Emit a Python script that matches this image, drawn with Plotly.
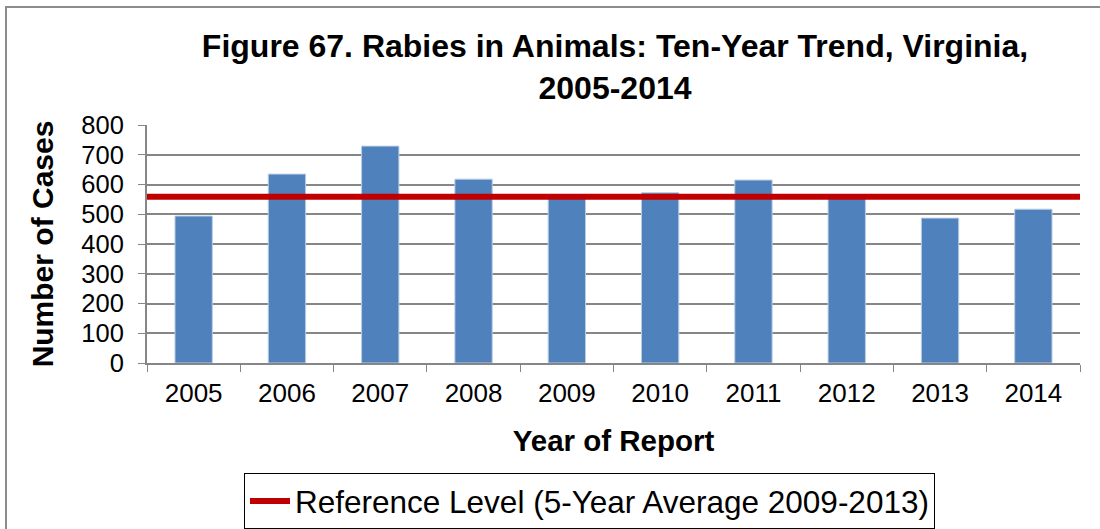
import plotly.graph_objects as go

years = ["2005", "2006", "2007", "2008", "2009", "2010", "2011", "2012", "2013", "2014"]
cases = [494, 635, 729, 618, 557, 572, 615, 563, 487, 517]
reference_level = 559
ref_name = "Reference Level (5-Year Average 2009-2013)"
title_text = "<b>Figure 67. Rabies in Animals: Ten-Year Trend, Virginia,<br>2005-2014</b>"

W, H = 1100, 529
L, R, T, B = 147, 20, 125, 166
pw = W - L - R
ph = H - T - B

FONT = "Liberation Sans, Arial, sans-serif"

fig = go.Figure()
fig.add_trace(go.Bar(
    x=years, y=cases, name="Cases", showlegend=False,
    marker=dict(color="#4F81BD", line=dict(color="#B9CDE5", width=1)),
))
fig.add_trace(go.Scatter(
    x=[0, 1], y=[reference_level, reference_level], xaxis="x2", mode="lines",
    name=ref_name, line=dict(color="#C00000", width=6),
))

fig.update_layout(
    width=W, height=H,
    margin=dict(l=L, r=R, t=T, b=B, autoexpand=False),
    paper_bgcolor="white", plot_bgcolor="white",
    font=dict(family=FONT, color="black"),
    bargap=0.6,
    title=dict(text=title_text, x=(615) / W, xanchor="center", y=1 - 57 / H, yanchor="top",
               font=dict(size=32, family=FONT, color="black")),
    xaxis=dict(
        type="category", tickson="boundaries", ticks="outside", ticklen=7,
        tickcolor="#868686", showline=True, linecolor="#868686", linewidth=2,
        tickfont=dict(size=26), showgrid=False, ticklabelstandoff=6,
        title=dict(text="<b>Year of Report</b>", font=dict(size=29.5), standoff=23),
    ),
    xaxis2=dict(overlaying="x", range=[0, 1], visible=False),
    yaxis=dict(
        range=[0, 800], dtick=100, ticks="outside", ticklen=7, tickcolor="#868686",
        showline=True, linecolor="#868686", linewidth=2,
        showgrid=True, gridcolor="#868686", gridwidth=2,
        tickfont=dict(size=25.5), ticklabelstandoff=9, zeroline=False,
        title=dict(text="<b>Number of Cases</b>", font=dict(size=30), standoff=19),
    ),
    legend=dict(
        orientation="h", x=(244 - L) / pw, xanchor="left", y=-(473 - (T + ph)) / ph, yanchor="top",
        bordercolor="black", borderwidth=1, bgcolor="white",
        font=dict(size=31.5, family=FONT), itemwidth=40,
    ),
    shapes=[dict(
        type="rect", xref="paper", yref="paper", layer="below",
        x0=(6 - L) / pw, x1=(W + 10 - L) / pw,
        y0=-(H + 10 - T - ph) / ph, y1=(T + ph - 7) / ph,
        line=dict(color="#8C8C8C", width=2), fillcolor="rgba(0,0,0,0)",
    )],
)

fig.write_html("out.html")
